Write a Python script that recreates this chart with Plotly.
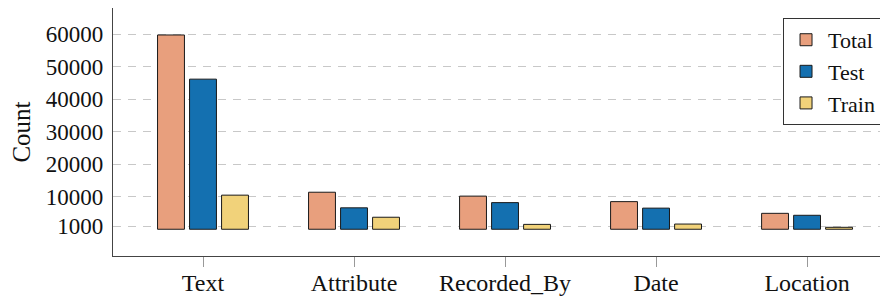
import plotly.graph_objects as go

categories = ["Text", "Attribute", "Recorded_By", "Date", "Location"]
total = [59800, 11400, 10200, 8500, 4900]
test = [46200, 6600, 8200, 6500, 4300]
train = [10500, 3700, 1500, 1600, 600]
ytick_vals = [1000, 10000, 20000, 30000, 40000, 50000, 60000]
ytick_text = ["1000", "10000", "20000", "30000", "40000", "50000", "60000"]

FONT = "Liberation Serif"
fig = go.Figure()
for name, vals, col in [("Total", total, "#E89F7D"),
                        ("Test", test, "#1470B0"),
                        ("Train", train, "#F1D27A")]:
    fig.add_trace(go.Bar(x=categories, y=vals, name=name,
                         marker=dict(color=col, line=dict(color="#1a1a1a", width=1))))

# page body has an 8px margin, so the figure is shrunk to fit the 888x299 window
fig.update_layout(
    width=880, height=291,
    margin=dict(l=105, r=0, t=0, b=43, autoexpand=False),
    paper_bgcolor="white", plot_bgcolor="white",
    barmode="group", bargap=0.364, bargroupgap=0.16,
    font=dict(family=FONT, size=22, color="#111"),
    showlegend=True,
    legend=dict(x=0.991, y=0.96, xanchor="right", yanchor="top",
                bgcolor="white", bordercolor="#333", borderwidth=1,
                font=dict(family=FONT, size=22), tracegroupgap=0,
                itemwidth=34),
)
fig.update_xaxes(
    range=[-0.596, 4.536], showline=True, linecolor="#444", linewidth=1.2,
    mirror="ticks", ticks="outside", ticklen=10, tickcolor="#999", tickwidth=1,
    showgrid=False, tickfont=dict(family=FONT, size=24), automargin=False,
    ticklabelstandoff=-5,
)
fig.update_yaxes(
    range=[-8230, 68100], showline=True, linecolor="#444", linewidth=1.2,
    mirror=False, tickvals=ytick_vals, ticktext=ytick_text,
    ticks="outside", ticklen=4, tickcolor="rgba(0,0,0,0)",
    showgrid=True, gridcolor="#c8c8c8", gridwidth=1, griddash="8px,7px",
    zeroline=False, tickfont=dict(family=FONT, size=23), automargin=False,
    title=dict(text="Count", font=dict(family=FONT, size=25), standoff=16),
)
fig.write_html("out.html")
